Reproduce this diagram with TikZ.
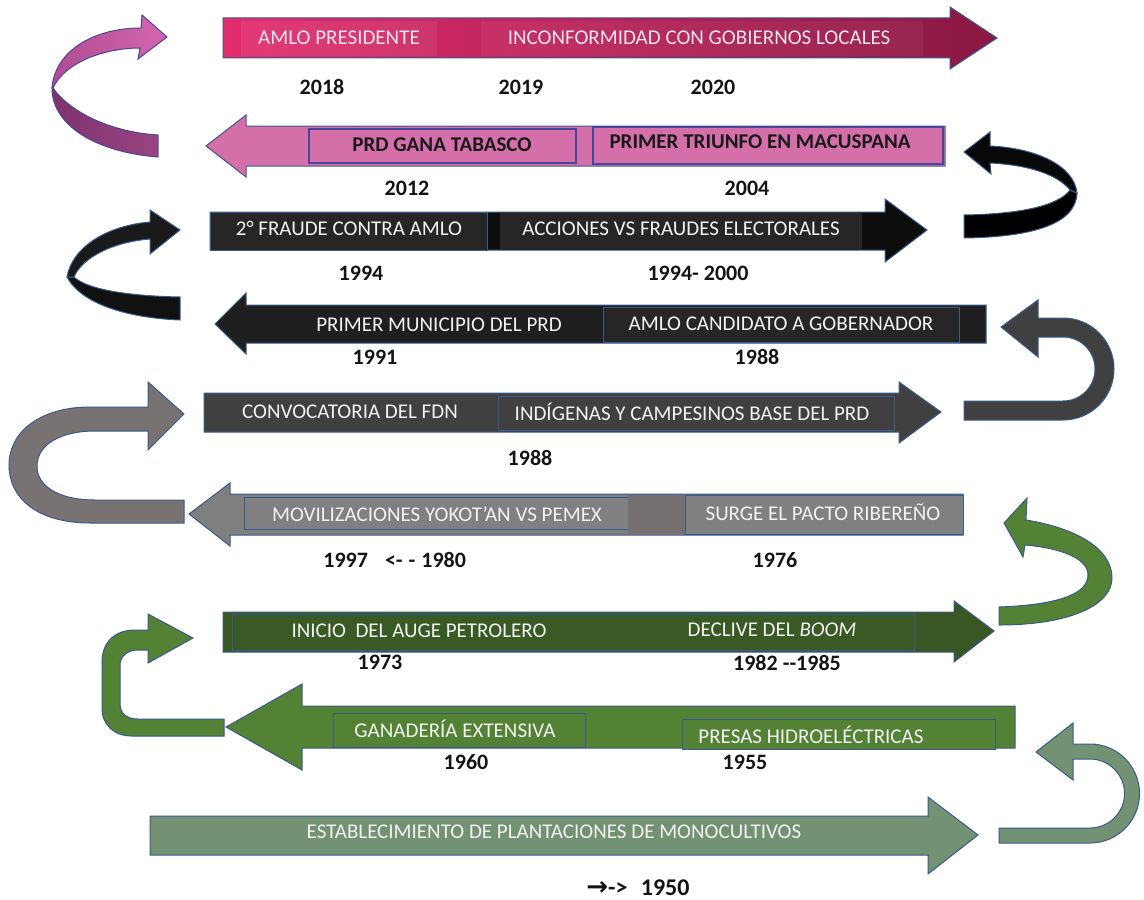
\documentclass[tikz,border=0pt]{standalone}
\usepackage{fontspec}
\setmainfont{Carlito}
\newfontfamily\dejavu{DejaVu Sans}
\definecolor{bordc}{HTML}{3A5A8C}
\definecolor{bordv}{HTML}{4A4598}
\definecolor{pinkL}{HTML}{E22C6E}
\definecolor{pinkR}{HTML}{8A1843}
\definecolor{orchid}{HTML}{D46FAA}
\definecolor{ribA}{HTML}{7E326C}
\definecolor{ribB}{HTML}{9A4583}
\definecolor{ribC}{HTML}{B04C92}
\definecolor{ribD}{HTML}{D466AD}
\definecolor{blk}{HTML}{0D0D0D}
\definecolor{blk2}{HTML}{1F1F1F}
\definecolor{blk3}{HTML}{080808}
\definecolor{blk4}{HTML}{111111}
\definecolor{blk5}{HTML}{1A1A1A}
\definecolor{dgray}{HTML}{262626}
\definecolor{mgray}{HTML}{404040}
\definecolor{lgray}{HTML}{7F7F7F}
\definecolor{g80}{HTML}{808080}
\definecolor{wgray}{HTML}{797272}
\definecolor{strip}{HTML}{767070}
\definecolor{dgreen}{HTML}{385723}
\definecolor{dgreen2}{HTML}{3A5A25}
\definecolor{mgreen}{HTML}{548235}
\definecolor{sage}{HTML}{739173}
\definecolor{ltext}{HTML}{F2F2F2}
\definecolor{ptext}{HTML}{F6E3EC}
\begin{document}
\begin{tikzpicture}[x=0.5pt,y=-0.5pt,
  bord/.style={draw=bordc,line width=0.5pt},
  vbord/.style={draw=bordv,line width=0.6pt},
  lbl/.style={font=\fontsize{10.5}{12}\selectfont,text=ltext,inner sep=0pt},
  blbl/.style={font=\fontsize{10.5}{12}\selectfont\bfseries,text=black!90,inner sep=0pt},
  yr/.style={font=\fontsize{11}{13}\selectfont\bfseries,text=black!92,inner sep=0pt}]
\useasboundingbox (0,0) rectangle (1144,899);

% ---------- curved connectors ----------
% magenta ribbon (top left)
\path[bord,draw=bordv,left color=ribA,right color=ribB]
  (52,88) .. controls (52,125) and (95,152) .. (158,157) -- (158,135)
  .. controls (110,132) and (70,112) .. (53,88) -- cycle;
\path[bord,draw=bordv,left color=ribC,right color=ribD]
  (141,28) -- (142,15) -- (167,37) -- (138,59) -- (140,48)
  .. controls (105,48) and (65,62) .. (53,88) -- (52,88)
  .. controls (55,50) and (95,28) .. (141,28) -- cycle;

% black ribbon right (rows 2-3)
\path[bord,fill=black]
  (1077,193) .. controls (1076,225) and (1030,237) .. (964,238) -- (964,215)
  .. controls (1020,214) and (1058,206) .. (1070,190) -- cycle;
\path[bord,fill=blk3]
  (990,146) -- (990,132) -- (964,152) -- (991,174) -- (990,163)
  .. controls (1030,165) and (1058,175) .. (1070,190) -- (1077,193)
  .. controls (1074,165) and (1035,148) .. (990,146) -- cycle;

% black ribbon left (rows 3-4)
\path[bord,fill=blk4]
  (67,277) .. controls (82,305) and (130,318) .. (180,320) -- (180,297)
  .. controls (130,296) and (88,290) .. (74,277) -- cycle;
\path[bord,fill=blk5]
  (150,222) -- (150,210) -- (180,230) -- (150,254) -- (150,239)
  .. controls (112,242) and (82,258) .. (74,277) -- (67,277)
  .. controls (72,248) and (105,226) .. (150,222) -- cycle;

% dark gray U (rows 5-4)
\path[bord,fill=mgray]
  (1038,318) -- (1063,318) .. controls (1091.2,318) and (1114,340.8) .. (1114,369)
  .. controls (1114,397.2) and (1091.2,420) .. (1063,420) -- (964,420) -- (964,401) -- (1063,401)
  .. controls (1080.7,401) and (1095,386.7) .. (1095,369)
  .. controls (1095,351.3) and (1080.7,337) .. (1063,337)
  -- (1038,337) -- (1038,357) -- (1001,327) -- (1038,300) -- cycle;

% gray C (rows 5-6)
\path[bord,fill=wgray]
  (148,407) -- (90,407) .. controls (40,407) and (9,432) .. (9,465)
  .. controls (9,500) and (40,523) .. (90,523) -- (184,523) -- (184,500) -- (95,500)
  .. controls (60,500) and (37,487) .. (37,466)
  .. controls (37,445) and (60,431) .. (95,431) -- (148,431)
  -- (148,450) -- (184,414) -- (148,382) -- cycle;

% green curved (rows 7-6)
\path[bord,fill=mgreen]
  (1026,520) .. controls (1075,528) and (1112,548) .. (1112,578)
  .. controls (1112,605) and (1070,625) .. (999,625) -- (999,607)
  .. controls (1055,605) and (1088,595) .. (1088,575)
  .. controls (1088,558) and (1060,548) .. (1025,545)
  -- (1023,557) -- (1004,523) -- (1027,498) -- cycle;

% green hook (rows 8-7)
\path[bord,fill=mgreen]
  (148,630) -- (135,630) .. controls (115,630) and (102,642) .. (102,662) -- (102,708)
  .. controls (102,725) and (114,736) .. (132,736) -- (224,736) -- (224,719) -- (138,719)
  .. controls (126,719) and (120,713) .. (120,703) -- (120,665)
  .. controls (120,656) and (128,650) .. (138,650) -- (148,650)
  -- (148,663) -- (193,638) -- (148,614) -- cycle;

% sage U (rows 9-8)
\path[bord,fill=sage]
  (1073,744) -- (1090,744) .. controls (1117.3,744) and (1139.5,766.2) .. (1139.5,793.5)
  .. controls (1139.5,820.8) and (1117.3,843) .. (1090,843) -- (999,843) -- (999,828) -- (1090,828)
  .. controls (1109,828) and (1124.5,812.5) .. (1124.5,793.5)
  .. controls (1124.5,774.5) and (1109,759) .. (1090,759)
  -- (1073,759) -- (1073,780) -- (1036,752) -- (1073,723) -- cycle;

% ---------- row 1 ----------
\path[bord,left color=pinkL,right color=pinkR]
  (223,18) -- (950,18) -- (950,7) -- (997,38) -- (950,69) -- (950,58) -- (223,58) -- cycle;
\fill[white,opacity=0.07] (241,21) rectangle (437,56);
\fill[white,opacity=0.05] (481,21) rectangle (923,56);
\node[lbl,text=ptext] (t1a) at (339,38) {AMLO PRESIDENTE};
\node[lbl,text=ptext] (t1b) at (699,38) {INCONFORMIDAD CON GOBIERNOS LOCALES};
\node[yr] (y2018) at (322,87) {2018};
\node[yr] (y2019) at (521,87) {2019};
\node[yr] (y2020) at (713,87) {2020};

% ---------- row 2 ----------
\path[bord,fill=orchid]
  (945,126) -- (246,126) -- (246,115) -- (206,146) -- (246,177) -- (246,166) -- (945,166) -- cycle;
\path[vbord,fill=orchid] (309,129) rectangle (576,163);
\path[vbord,fill=orchid] (593,127) rectangle (943,164);
\node[blbl] (t2a) at (442,145) {PRD GANA TABASCO};
\node[blbl] (t2b) at (760,142) {PRIMER TRIUNFO EN MACUSPANA};
\node[yr] (y2012) at (407,188) {2012};
\node[yr] (y2004) at (747,188) {2004};

% ---------- row 3 ----------
\path[bord,fill=blk]
  (210,212) -- (885,212) -- (885,199) -- (927,230) -- (885,262) -- (885,250) -- (210,250) -- cycle;
\path[bord,fill=dgray] (210,212) rectangle (487,250);
\fill[dgray] (500,213) rectangle (862,249);
\node[lbl] (t3a) at (349,228) {2° FRAUDE CONTRA AMLO};
\node[lbl] (t3b) at (681,229) {ACCIONES VS FRAUDES ELECTORALES};
\node[yr] (y1994) at (361,273) {1994};
\node[yr] (y1994b) at (698,273) {1994- 2000};

% ---------- row 4 ----------
\path[bord,fill=blk2]
  (986,305) -- (246,305) -- (246,293) -- (215,324) -- (246,354) -- (246,343) -- (986,343) -- cycle;
\path[bord,fill=dgray] (603,307) rectangle (959,342);
\node[lbl] (t4a) at (439,325) {PRIMER MUNICIPIO DEL PRD};
\node[lbl] (t4b) at (781,324) {AMLO CANDIDATO A GOBERNADOR};
\node[yr] (y1991) at (375,357) {1991};
\node[yr] (y1988a) at (757,357) {1988};

% ---------- row 5 ----------
\path[bord,fill=mgray]
  (204,393) -- (899,393) -- (899,382) -- (941,412) -- (899,443) -- (899,432) -- (204,432) -- cycle;
\path[bord,fill=mgray] (498,396) rectangle (894,430);
\node[lbl] (t5a) at (350,412) {CONVOCATORIA DEL FDN};
\node[lbl] (t5b) at (692,412) {INDÍGENAS Y CAMPESINOS BASE DEL PRD};
\node[yr] (y1988b) at (530,458) {1988};

% ---------- row 6 ----------
\path[bord,fill=lgray]
  (963,494) -- (230,494) -- (230,483) -- (189,514) -- (230,546) -- (230,535) -- (963,535) -- cycle;
\path[bord,fill=g80] (244,497) rectangle (628,529);
\fill[strip] (628,495) rectangle (685,534);
\path[bord,fill=g80] (685,495) rectangle (963,534);
\node[lbl] (t6a) at (437,514) {MOVILIZACIONES YOKOT’AN VS PEMEX};
\node[lbl] (t6b) at (823,512) {SURGE EL PACTO RIBEREÑO};
\node[yr,anchor=west] (y1997) at (323,560) {1997\hspace{8.5pt}<-\hspace{3pt}-\hspace{3pt}1980};
\node[yr] (y1976) at (775,560) {1976};

% ---------- row 7 ----------
\path[bord,fill=dgreen]
  (223,612) -- (954,612) -- (954,601) -- (994,631) -- (954,662) -- (954,652) -- (223,652) -- cycle;
\path[bord,fill=dgreen2] (232,614) rectangle (914,650);
\node[lbl] (t7a) at (419,631) {INICIO\ \ DEL AUGE PETROLERO};
\node[lbl] (t7b) at (772,630) {DECLIVE DEL \textit{BOOM}};
\node[yr] (y1973) at (380,662) {1973};
\node[yr] (y1982) at (787,663) {1982 -{}-1985};

% ---------- row 8 ----------
\path[bord,fill=mgreen]
  (1015,706) -- (302,706) -- (302,684) -- (226,727) -- (302,770) -- (302,748) -- (1015,748) -- cycle;
\path[bord,fill=mgreen] (333,713) rectangle (585,747);
\path[bord,fill=mgreen] (682,719) rectangle (995,749);
\node[lbl] (t8a) at (455,729) {GANADERÍA EXTENSIVA};
\node[lbl] (t8b) at (811,735) {PRESAS HIDROELÉCTRICAS};
\node[yr] (y1960) at (466,762) {1960};
\node[yr] (y1955) at (745,762) {1955};

% ---------- row 9 ----------
\path[bord,fill=sage]
  (150,816) -- (928,816) -- (928,797) -- (978,835) -- (928,874) -- (928,855) -- (150,855) -- cycle;
\node[lbl] (t9) at (554,832) {ESTABLECIMIENTO DE PLANTACIONES DE MONOCULTIVOS};
\node[yr,anchor=west,font=\fontsize{12}{14}\selectfont\bfseries] (y1950) at (586,888) {{\dejavu\bfseries\fontsize{13}{13}\selectfont →}->\hspace{4pt} 1950};
\end{tikzpicture}
\end{document}
